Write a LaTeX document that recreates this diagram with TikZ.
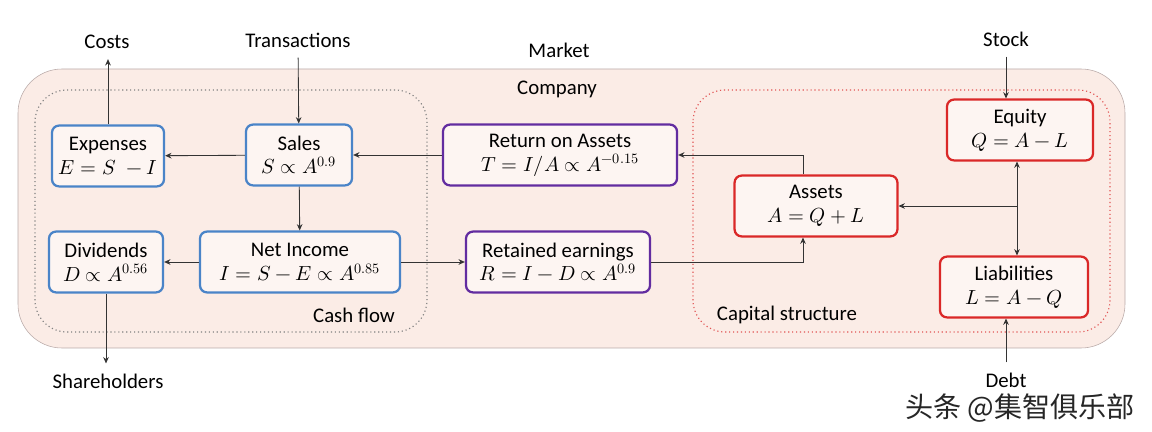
\documentclass[tikz,border=0pt]{standalone}
\usepackage{fontspec}
\usepackage{unicode-math}
\setmainfont{Carlito}
\newfontfamily\cjk{Noto Sans CJK SC}
\usetikzlibrary{arrows.meta}
\usetikzlibrary{positioning}

\definecolor{marketbg}{RGB}{251,236,230}
\definecolor{marketline}{RGB}{185,170,168}
\definecolor{flowblue}{RGB}{74,132,200}
\definecolor{roapurple}{RGB}{98,44,160}
\definecolor{capred}{RGB}{218,40,40}

% 公式行
\newcommand\boxeq[1]{{\fontsize{14.5}{16}\selectfont$#1$}}

\begin{document}
\begin{tikzpicture}[
    x=0.025cm, y=-0.025cm,
    font=\fontsize{14.8}{17}\selectfont,
    box/.style={draw, line width=1.6pt, rounded corners=5pt, fill=marketbg!50!white,
        align=center, minimum height=1.52cm, inner sep=2pt},
    arr/.style={-{Stealth[length=4.5pt,width=4pt]}, line width=0.6pt, draw=black!80},
    ext/.style={outer sep=4pt},
]
    \def\R{1.1cm}
    \useasboundingbox (0,0) rectangle (1152,432);

    % Market / Company
    \draw [fill=marketbg, draw=marketline, rounded corners=\R] (18,69) rectangle (1125,348);
    \node (market) at (559,50) {Market};
    \node (company) at (557,89) {Company};

    % 两个点线框
    \draw [gray, dotted, line width=0.8pt, rounded corners=0.8cm] (35,90) rectangle (427,332);
    \draw [capred!80, dotted, line width=0.8pt, rounded corners=0.8cm] (693,90) rectangle (1110,332);
    \node (cashflow) at (354,315) {Cash flow};
    \node (capital) at (787,315) {Capital structure};

    % Cash flow
    \node [box, draw=flowblue, minimum width=2.8cm] (exp) at (108,156) {Expenses\\\boxeq{E=S\;-I}};
    \node [box, draw=flowblue, minimum width=2.65cm] (sales) at (299,155) {Sales\\\boxeq{S\propto A^{0.9}}};
    \node [box, draw=flowblue, minimum width=2.85cm] (div) at (106,262) {Dividends\\\boxeq{D\propto A^{0.56}}};
    \node [box, draw=flowblue, minimum width=5cm] (ni) at (300,262) {Net Income\\\boxeq{I=S-E\propto A^{0.85}}};

    \node [box, draw=roapurple, minimum width=5.85cm] (roa) at (560,155) {Return on Assets\\\boxeq{T=I/A\propto A^{-0.15}}};
    \node [box, draw=roapurple, minimum width=4.6cm] (re) at (558,262) {Retained earnings\\\boxeq{R=I-D\propto A^{0.9}}};

    % Capital structure
    \node [box, draw=capred, minimum width=4.07cm] (assets) at (816,206) {Assets\\\boxeq{A=Q+L}};
    \node [box, draw=capred, minimum width=3.65cm] (eq) at (1020,130) {Equity\\\boxeq{Q=A-L}};
    \node [box, draw=capred, minimum width=3.7cm] (li) at (1014,287) {Liabilities\\\boxeq{L=A-Q}};

    % 外部
    \node [ext] (costs) at (107,42) {Costs};
    \node [ext] (trans) at (298,40) {Transactions};
    \node [ext] (share) at (108,381) {Shareholders};
    \node [ext] (stock) at (1006,39) {Stock};
    \node [ext] (debt) at (1006,380) {Debt};
    \node [text=black!85, inner sep=0pt] (mark) at (1020,408) {\cjk\fontsize{20}{22}\selectfont 头条 @集智俱乐部};

    \coordinate (tap) at (803,206);
    \coordinate (bus) at (1017,206);

    \draw [arr] (exp.north) -- (costs.south -| exp.north);
    \draw [arr] (trans) -- (sales);
    \draw [arr] (div.south) -- (share.north -| div.south);
    \draw [arr] (stock.south) -- (stock.south |- eq.north);
    \draw [arr] (debt.north) -- (debt.north |- li.south);

    \draw [arr] (sales) -- (exp);
    \draw [arr] (sales) -- (ni);
    \draw [arr] (roa) -- (sales);
    \draw [arr] (ni) -- (div);
    \draw [arr] (ni) -- (re);
    \draw [arr] (re.east) -| (tap |- assets.south);
    \draw [arr] (tap |- assets.north) |- (roa.east);

    \draw [arr] (bus) -- (bus -| assets.east);
    \draw [arr] (bus) -- (bus |- eq.south);
    \draw [arr] (bus) -- (bus |- li.north);
\end{tikzpicture}
\end{document}
